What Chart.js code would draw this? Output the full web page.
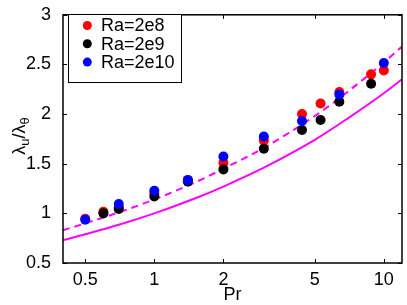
<!DOCTYPE html>
<html><head><meta charset="utf-8">
<script src="https://cdn.jsdelivr.net/npm/chart.js@4"></script>
<style>html,body{margin:0;padding:0;background:#fff}canvas{display:block}</style>
</head><body>
<canvas id="c" width="407" height="305"></canvas>
<script>
// ---- data ----
const xTicks = [0.5, 1, 2, 5, 10];
const yTicks = [0.5, 1, 1.5, 2, 2.5, 3];
const seriesLabels = ['Ra=2e8', 'Ra=2e9', 'Ra=2e10'];

const prRa2e8  = [0.5, 0.6, 0.7, 1, 1.4, 2, 3, 4.4, 5.3, 6.4, 8.8, 10];
const valRa2e8 = [0.945, 1.015, 1.06, 1.20, 1.33, 1.51, 1.735, 2.0, 2.107, 2.223, 2.40, 2.44];

const prRa2e9  = [0.6, 0.7, 1, 1.4, 2, 3, 4.4, 5.3, 6.4, 8.8];
const valRa2e9 = [1.0, 1.045, 1.17, 1.32, 1.443, 1.652, 1.84, 1.94, 2.124, 2.306];

const prRa2e10  = [0.5, 0.7, 1, 1.4, 2, 3, 4.4, 6.4, 10];
const valRa2e10 = [0.935, 1.095, 1.227, 1.337, 1.573, 1.775, 1.93, 2.196, 2.515];

const prCurve     = [0.4, 0.5, 0.7, 1, 1.5, 2, 3, 5, 7, 10, 12];
const solidCurve  = [0.73, 0.79, 0.885, 1.0, 1.15, 1.27, 1.46, 1.74, 1.96, 2.21, 2.35];
const dashedCurve = [0.83, 0.90, 1.01, 1.14, 1.31, 1.45, 1.66, 1.98, 2.23, 2.52, 2.68];

const pts = (xs, ys) => xs.map((x, i) => ({x: x, y: ys[i]}));
const FONT = '"Liberation Sans", Arial, Helvetica, sans-serif';
const FS = 18;

const framePlugin = {
  id: 'frame',
  afterDraw(chart) {
    const ctx = chart.ctx, a = chart.chartArea;
    const xs = chart.scales.x, ys = chart.scales.y;
    ctx.save();
    ctx.strokeStyle = '#000';
    ctx.lineWidth = 1;
    ctx.beginPath();
    xTicks.forEach(v => {
      const p = Math.round(xs.getPixelForValue(v)) + 0.5;
      ctx.moveTo(p, a.bottom); ctx.lineTo(p, a.bottom - 4);
      ctx.moveTo(p, a.top); ctx.lineTo(p, a.top + 4);
    });
    yTicks.forEach(v => {
      const p = Math.round(ys.getPixelForValue(v)) + 0.5;
      ctx.moveTo(a.left, p); ctx.lineTo(a.left + 4, p);
      ctx.moveTo(a.right, p); ctx.lineTo(a.right - 4, p);
    });
    ctx.stroke();
    ctx.lineWidth = 1.5;
    ctx.strokeRect(a.left, a.top, a.right - a.left, a.bottom - a.top);

    // legend
    const lx = 68.5, ly = 14.5, lw = 113, lh = 68;
    ctx.fillStyle = '#fff';
    ctx.fillRect(lx, ly, lw, lh);
    ctx.lineWidth = 1;
    ctx.strokeStyle = '#000';
    ctx.strokeRect(lx, ly, lw, lh);
    ctx.font = FS + 'px ' + FONT;
    ctx.textBaseline = 'middle';
    ctx.textAlign = 'left';
    for (let i = 0; i < 3; i++) {
      const ds = chart.data.datasets[i];
      const cy = 25.5 + i * 18.3;
      ctx.fillStyle = ds.backgroundColor;
      ctx.beginPath(); ctx.arc(87.3, cy, 4.5, 0, Math.PI * 2); ctx.fill();
      ctx.fillStyle = '#000';
      ctx.fillText(ds.label, 101, cy + 1);
    }

    // axis titles
    ctx.fillStyle = '#000';
    ctx.font = FS + 'px ' + FONT;
    ctx.textAlign = 'center';
    ctx.textBaseline = 'middle';
    ctx.fillText('Pr', (a.left + a.right) / 2, 295);

    ctx.translate(25, (a.top + a.bottom) / 2 - 3);
    ctx.rotate(-Math.PI / 2);
    const parts = [['λ', FS, 0], ['u', 13, 4], ['/λ', FS, 0], ['θ', 13, 4]];
    let total = 0;
    parts.forEach(p => { ctx.font = p[1] + 'px ' + FONT; total += ctx.measureText(p[0]).width; });
    let cx = -total / 2;
    ctx.textAlign = 'left';
    ctx.textBaseline = 'alphabetic';
    parts.forEach(p => {
      ctx.font = p[1] + 'px ' + FONT;
      ctx.fillText(p[0], cx, p[2]);
      cx += ctx.measureText(p[0]).width;
    });
    ctx.restore();
  }
};

new Chart(document.getElementById('c'), {
  type: 'scatter',
  data: {
    datasets: [
      {label: seriesLabels[0], data: pts(prRa2e8, valRa2e8), backgroundColor: '#ff0000', borderWidth: 0, pointRadius: 5, order: 3},
      {label: seriesLabels[1], data: pts(prRa2e9, valRa2e9), backgroundColor: '#000000', borderWidth: 0, pointRadius: 5, order: 2},
      {label: seriesLabels[2], data: pts(prRa2e10, valRa2e10), backgroundColor: '#0000ff', borderWidth: 0, pointRadius: 5, order: 1},
      {label: 'solid', data: pts(prCurve, solidCurve), showLine: true, borderColor: '#ff00ff', borderWidth: 2, pointRadius: 0, cubicInterpolationMode: 'monotone', order: 5},
      {label: 'dashed', data: pts(prCurve, dashedCurve), showLine: true, borderColor: '#ff00ff', borderWidth: 2, borderDash: [7, 5], pointRadius: 0, cubicInterpolationMode: 'monotone', order: 4}
    ]
  },
  options: {
    responsive: false,
    animation: false,
    devicePixelRatio: 1,
    layout: {padding: {top: 12, right: 3, left: 0, bottom: 0}},
    plugins: {legend: {display: false}, tooltip: {enabled: false}},
    scales: {
      x: {
        type: 'logarithmic', min: 0.4, max: 12,
        grid: {display: false}, border: {display: false},
        afterBuildTicks: s => { s.ticks = xTicks.map(v => ({value: v})); },
        afterFit: s => { s.height = 42; },
        ticks: {padding: -2, color: '#000', font: {family: FONT, size: FS}, callback: v => String(v), autoSkip: false, maxRotation: 0}
      },
      y: {
        min: 0.5, max: 3,
        grid: {display: false}, border: {display: false},
        afterBuildTicks: s => { s.ticks = yTicks.map(v => ({value: v})); },
        afterFit: s => { s.width = 63; },
        ticks: {padding: 4, color: '#000', font: {family: FONT, size: FS}, callback: v => String(v)}
      }
    }
  },
  plugins: [framePlugin]
});
</script>
</body></html>
